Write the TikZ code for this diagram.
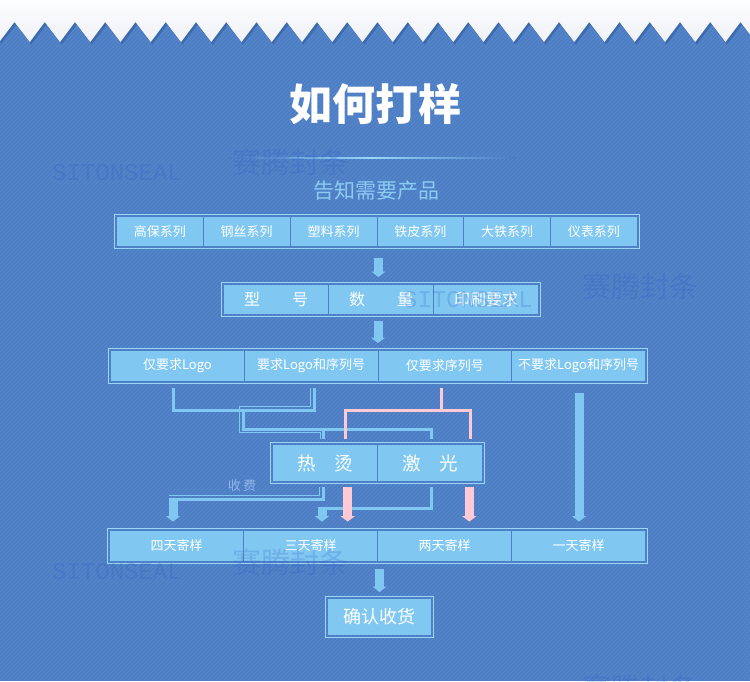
\documentclass[tikz,border=0pt]{standalone}
\usepackage{fontspec}
\newfontfamily\cjk{Noto Sans CJK SC}
\newfontfamily\wmmono{Liberation Mono}
\usetikzlibrary{arrows.meta,fit,calc}
\definecolor{bgblue}{HTML}{4A7CC4}
\definecolor{boxfill}{HTML}{80C8F2}
\definecolor{celledge}{HTML}{4D80C6}
\definecolor{frameline}{HTML}{9AD6F8}
\definecolor{conn}{HTML}{80C8F2}
\definecolor{pinkc}{HTML}{FFCAD6}
\definecolor{subtitle}{HTML}{8CCBF2}
\definecolor{wm}{HTML}{2E58C4}
\definecolor{shadowc}{HTML}{22508F}
\definecolor{feecol}{HTML}{8FB6E8}
\definecolor{topgray}{HTML}{EEF1F6}
\tikzset{
  cell/.style={rectangle, fill=boxfill, draw=celledge, line width=0.8pt, inner sep=0pt, text=white},
  rowframe/.style={rectangle, draw=frameline, line width=0.9pt, inner sep=1.6pt},
  smalltxt/.style={font=\cjk\fontsize{13}{13}\selectfont},
  midtxt/.style={font=\cjk\fontsize{16}{16}\selectfont},
  bigtxt/.style={font=\cjk\fontsize{18.5}{18.5}\selectfont},
  thickc/.style={draw=conn, line width=3pt},
  thinc/.style={draw=conn, line width=1pt},
  pinkl/.style={draw=pinkc, line width=3pt},
  blockarr/.style={line width=9pt, -{Triangle[width=14pt,length=5.5pt]}},
  wmlatin/.style={text=wm, opacity=0.22, font=\wmmono\fontsize{24}{24}\selectfont},
  wmcjk/.style={text=wm, opacity=0.22, font=\cjk\fontsize{29}{29}\selectfont},
}
\begin{document}
\begin{tikzpicture}[x=1pt,y=-1pt]
\useasboundingbox (0,0) rectangle (750,681);
\begin{scope}
\clip (0,0) rectangle (750,681);
% background and stripes
\fill[bgblue] (0,0) rectangle (750,681);
\foreach \i in {0,4,...,1432} \draw[white, opacity=0.07, line width=1.2pt] (\i-681,681) -- (\i,0);
% zigzag top with shadow
\fill[shadowc, opacity=0.45, shift={(1.5,2.5)}] (-5,-5) -- (-0.75,42) \foreach \k in {0,...,24} { -- ({14.5+30.25*\k},22) -- ({29.75+30.25*\k},42) } -- (775,-5) -- cycle;
\shade[top color=white, bottom color=topgray] (-5,-5) -- (-0.75,42) \foreach \k in {0,...,24} { -- ({14.5+30.25*\k},22) -- ({29.75+30.25*\k},42) } -- (775,-5) -- cycle;
\end{scope}

% titles
\node[font=\cjk\bfseries\fontsize{43}{43}\selectfont, text=white] (title) at (375,104) {如何打样};
\shade[left color=bgblue, right color=bgblue, middle color=frameline] (228,157.4) rectangle (515,158.8);
\node[font=\cjk\fontsize{21}{21}\selectfont, text=subtitle] (sub) at (376,191) {告知需要产品};

% row 1
\foreach \n/\x/\t in {r1a/159.9/高保系列, r1b/246.7/钢丝系列, r1c/333.5/塑料系列, r1d/420.3/铁皮系列, r1e/507.1/大铁系列, r1f/593.9/仪表系列}
  \node[cell, smalltxt, minimum width=86.8pt, minimum height=30pt] (\n) at (\x,231.5) {\t};
\node[rowframe, fit=(r1a)(r1f)] (r1) {};

% row 2
\node[cell, midtxt, minimum width=105pt, minimum height=30pt] (r2a) at (276,299.5) {型\hspace{2em}号};
\node[cell, midtxt, minimum width=105pt, minimum height=30pt] (r2b) at (381,299.5) {数\hspace{2em}量};
\node[cell, midtxt, minimum width=105pt, minimum height=30pt] (r2c) at (486,299.5) {印刷要求};
\node[rowframe, fit=(r2a)(r2c)] (r2) {};

% row 3
\foreach \n/\x/\t in {r3a/177.4/仅要求Logo, r3b/311.1/要求Logo和序列号, r3c/444.9/仅要求序列号, r3d/578.6/不要求Logo和序列号}
  \node[cell, smalltxt, minimum width=133.75pt, minimum height=31pt] (\n) at (\x,366) {\t};
\node[rowframe, fit=(r3a)(r3d)] (r3) {};

% hot stamping / laser
\node[cell, bigtxt, minimum width=105pt, minimum height=37pt] (ha) at (325,463) {热\hspace{1em}烫};
\node[cell, bigtxt, minimum width=105pt, minimum height=37pt] (hb) at (430,463) {激\hspace{1em}光};
\node[rowframe, fit=(ha)(hb)] (hbox) {};

% row 4
\foreach \n/\x/\t in {r4a/176.5/四天寄样, r4b/310.5/三天寄样, r4c/444.5/两天寄样, r4d/578.5/一天寄样}
  \node[cell, smalltxt, minimum width=134pt, minimum height=31pt] (\n) at (\x,546) {\t};
\node[rowframe, fit=(r4a)(r4d)] (r4) {};

% final
\node[cell, font=\cjk\fontsize{18}{18}\selectfont, minimum width=104pt, minimum height=37pt] (fin) at (379.5,617) {确认收货};
\node[rowframe, fit=(fin)] (finf) {};

% vertical block arrows between rows
\draw[blockarr, conn] ([xshift=1.5pt,yshift=-9pt]r1.south) -- ([xshift=1.5pt,yshift=5pt]r1.south |- r2.north);
\draw[blockarr, conn] ([yshift=-4.5pt]r2.south -| r3.north) -- ([yshift=5pt]r3.north);
\draw[blockarr, conn] ([yshift=-5.5pt]r4.south -| fin.north) -- ([yshift=4pt]finf.north);

% coordinates
\coordinate (jA) at (243.5,410);
\coordinate (jB) at (243.5,429);
\coordinate (tA) at (239.5,406);
\coordinate (tB) at (239.5,432);
\coordinate (haT) at ([xshift=-2pt,yshift=5.5pt]ha.north);
\coordinate (haThin) at ([xshift=-5pt,yshift=5.5pt]ha.north);
\coordinate (hbT) at ([xshift=1.6pt,yshift=5.5pt]hb.north);
\coordinate (kA) at (173,499);
\coordinate (kThin) at (168.5,495);
\coordinate (kB) at (322,508);
\coordinate (pJ) at (441.4,410);

% blue connectors from row 3
\draw[thinc] ([xshift=-0.6pt,yshift=-6.5pt]r3b.south) |- (tA) -- (tB) -| (haThin);
\draw[thickc] ([xshift=-4.4pt,yshift=-6.5pt]r3a.south) |- (jA) -| ([xshift=3pt,yshift=-6.5pt]r3b.south);
\draw[thickc] (jA) -- (jB) -| (hbT);
\draw[thickc] (haT |- jB) -- (haT);

% pink connectors from row 3
\draw[pinkl] ([xshift=-3.5pt,yshift=-6.5pt]r3c.south) -- (pJ);
\draw[pinkl] ([xshift=20.6pt,yshift=5.5pt]ha.north) |- (pJ) -| ([xshift=40pt,yshift=5.5pt]hb.north);

% right long arrow
\draw[blockarr, conn] ([xshift=0.4pt,yshift=-11.5pt]r3d.south) -- ([xshift=0.5pt,yshift=8.5pt]r4d.north);

% below hot stamping
\draw[thinc] ([xshift=-5.5pt,yshift=-5pt]ha.south) |- (kThin);
\draw[thickc] ([xshift=-2pt,yshift=-5pt]ha.south) |- (kA);
\draw[blockarr, conn] ([yshift=1.5pt]kA) -- ([xshift=-3.5pt,yshift=8.5pt]r4a.north);
\node[font=\cjk\fontsize{13}{13}\selectfont, text=feecol] (fee) at (242,486) {收\,费};

% below laser
\draw[thickc] ([xshift=1pt,yshift=-5pt]hb.south) |- (kB);
\draw[blockarr, conn] ([yshift=1.5pt]kB) -- ([xshift=11.5pt,yshift=8.5pt]r4b.north);

% pink arrows
\draw[blockarr, pinkc] ([xshift=22.7pt,yshift=-5pt]ha.south) -- ([xshift=37.2pt,yshift=8.5pt]r4b.north);
\draw[blockarr, pinkc] ([xshift=39.3pt,yshift=-5pt]hb.south) -- ([xshift=24.8pt,yshift=8.5pt]r4c.north);

% watermarks
\begin{scope}
\clip (0,0) rectangle (750,681);
\node[wmlatin] (w1) at (117,173) {SITONSEAL};
\node[wmcjk] (w2) at (290,162) {赛腾封条};
\node[wmlatin] (w3) at (468,300) {SITONSEAL};
\node[wmcjk] (w4) at (640,286) {赛腾封条};
\node[wmlatin] (w5) at (117,572) {SITONSEAL};
\node[wmcjk] (w6) at (290,562) {赛腾封条};
\node[wmcjk] (w7) at (640,688) {赛腾封条};
\end{scope}
\end{tikzpicture}
\end{document}
